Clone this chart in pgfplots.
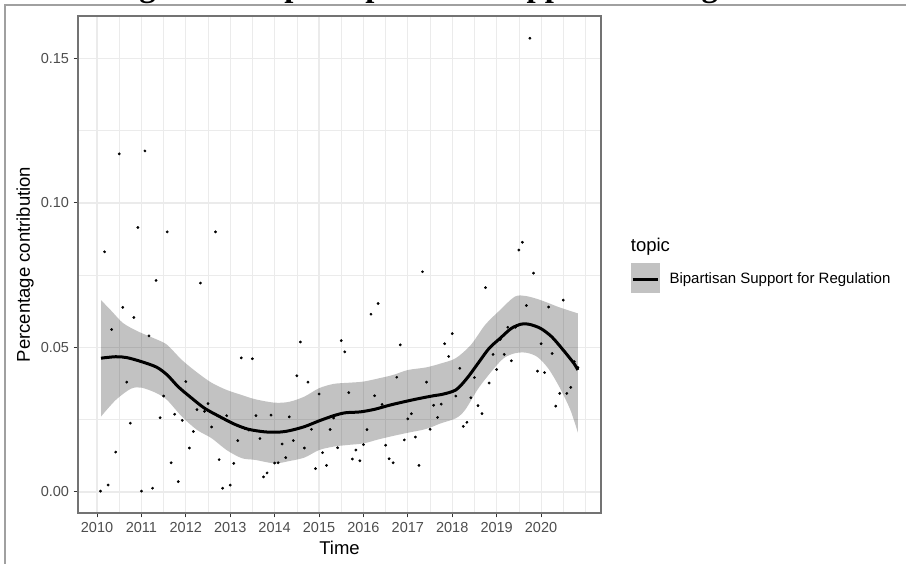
\documentclass[border=0pt]{standalone}
\usepackage{fontspec}
\setmainfont{Liberation Sans}
\newfontfamily\titlefont{Liberation Serif}
\usepackage{pgfplots}
\pgfplotsset{compat=1.18}
\usepgfplotslibrary{fillbetween}

\definecolor{gridgray}{HTML}{EBEBEB}
\definecolor{tickgray}{HTML}{4D4D4D}
\definecolor{framegray}{HTML}{A0A0A0}

% monthly topic share
\pgfplotstableread{
x y
2010.08 0.0003
2010.17 0.0831
2010.25 0.0024
2010.33 0.0562
2010.42 0.0138
2010.50 0.1170
2010.58 0.0639
2010.67 0.0380
2010.75 0.0238
2010.83 0.0604
2010.92 0.0915
2011.00 0.0003
2011.08 0.1180
2011.17 0.0540
2011.25 0.0013
2011.33 0.0732
2011.42 0.0257
2011.50 0.0332
2011.58 0.0900
2011.67 0.0101
2011.75 0.0269
2011.83 0.0036
2011.92 0.0248
2012.00 0.0382
2012.08 0.0152
2012.17 0.0209
2012.25 0.0285
2012.33 0.0723
2012.42 0.0279
2012.50 0.0306
2012.58 0.0225
2012.67 0.0900
2012.75 0.0112
2012.83 0.0013
2012.92 0.0264
2013.00 0.0024
2013.08 0.0099
2013.17 0.0178
2013.25 0.0464
2013.33 0.0220
2013.42 0.0214
2013.50 0.0461
2013.58 0.0264
2013.67 0.0185
2013.75 0.0052
2013.83 0.0066
2013.92 0.0266
2014.00 0.0100
2014.08 0.0101
2014.17 0.0166
2014.25 0.0119
2014.33 0.0260
2014.42 0.0178
2014.50 0.0402
2014.58 0.0519
2014.67 0.0152
2014.75 0.0380
2014.83 0.0217
2014.92 0.0081
2015.00 0.0339
2015.08 0.0136
2015.17 0.0092
2015.25 0.0216
2015.33 0.0256
2015.42 0.0153
2015.50 0.0524
2015.58 0.0485
2015.67 0.0344
2015.75 0.0114
2015.83 0.0145
2015.92 0.0108
2016.00 0.0164
2016.08 0.0216
2016.17 0.0615
2016.25 0.0333
2016.33 0.0652
2016.42 0.0303
2016.50 0.0162
2016.58 0.0115
2016.67 0.0101
2016.75 0.0397
2016.83 0.0509
2016.92 0.0180
2017.00 0.0253
2017.08 0.0271
2017.17 0.0190
2017.25 0.0092
2017.33 0.0762
2017.42 0.0380
2017.50 0.0217
2017.58 0.0300
2017.67 0.0258
2017.75 0.0304
2017.83 0.0513
2017.92 0.0469
2018.00 0.0548
2018.08 0.0332
2018.17 0.0428
2018.25 0.0227
2018.33 0.0241
2018.42 0.0326
2018.50 0.0396
2018.58 0.0299
2018.67 0.0271
2018.75 0.0707
2018.83 0.0377
2018.92 0.0476
2019.00 0.0424
2019.08 0.0528
2019.17 0.0476
2019.25 0.0570
2019.33 0.0454
2019.42 0.0570
2019.50 0.0837
2019.58 0.0864
2019.67 0.0645
2019.75 0.1570
2019.83 0.0757
2019.92 0.0418
2020.00 0.0513
2020.08 0.0413
2020.17 0.0640
2020.25 0.0479
2020.33 0.0297
2020.42 0.0341
2020.50 0.0664
2020.58 0.0341
2020.67 0.0362
2020.75 0.0451
2020.83 0.0431
}\points

\begin{document}
\begin{tikzpicture}[x=1pt,y=1pt]

% screenshot frame and the cut-off caption above it
\draw[framegray, line width=2pt] (906,559) -- (5,559) -- (5,0);
\node[anchor=base west, inner sep=0pt,
      font=\titlefont\bfseries\fontsize{32.8}{36}\selectfont]
  at (110,567) {Figure 5: Topic Bipartisan Support for Regulation};

\begin{axis}[
    at={(78pt,51pt)}, anchor=south west,
    scale only axis, width=523pt, height=497pt,
    xmin=2009.572, xmax=2021.35,
    ymin=-0.00727, ymax=0.1647,
    xtick={2010,2011,2012,2013,2014,2015,2016,2017,2018,2019,2020},
    xticklabels={2010,2011,2012,2013,2014,2015,2016,2017,2018,2019,2020},
    minor xtick={2010.5,2011.5,2012.5,2013.5,2014.5,2015.5,2016.5,2017.5,2018.5,2019.5,2020.5,2021},
    ytick={0,0.05,0.1,0.15},
    yticklabels={0.00,0.05,0.10,0.15},
    minor ytick={0.025,0.075,0.125},
    grid=both,
    major grid style={gridgray, line width=1.1pt},
    minor grid style={gridgray, line width=0.6pt},
    xtick pos=bottom, ytick pos=left,
    tick align=outside,
    major tick length=4.5pt, minor tick length=0pt,
    every tick/.style={black!80, line width=1pt},
    axis line style={black!55, line width=1.2pt},
    ticklabel style={font=\fontsize{14.5}{17}\selectfont, text=tickgray},
    xticklabel style={yshift=-1pt},
    yticklabel style={xshift=-1pt},
]

% confidence band of the loess fit
\addplot[name path=up, draw=none, smooth] coordinates {
(2010.09,0.0664)(2010.34,0.0624)(2010.59,0.0584)(2010.93,0.0555)(2011.34,0.0528)
(2011.58,0.0509)(2011.91,0.0457)(2012.25,0.0414)(2012.58,0.0378)(2012.92,0.0353)
(2013.25,0.0336)(2013.56,0.0321)(2014.00,0.0309)(2014.33,0.0312)(2014.67,0.0330)
(2015.00,0.0359)(2015.33,0.0374)(2015.67,0.0378)(2016.00,0.0382)(2016.34,0.0393)
(2016.67,0.0405)(2017.00,0.0422)(2017.41,0.0431)(2017.75,0.0445)(2018.08,0.0463)
(2018.42,0.0509)(2018.74,0.0578)(2019.08,0.0630)(2019.41,0.0676)(2019.66,0.0678)
(2019.99,0.0664)(2020.41,0.0639)(2020.83,0.0618)
};
\addplot[name path=lo, draw=none, smooth] coordinates {
(2010.09,0.0261)(2010.42,0.0318)(2010.76,0.0357)(2011.00,0.0361)(2011.34,0.0342)
(2011.58,0.0318)(2011.91,0.0261)(2012.25,0.0215)(2012.58,0.0186)(2012.92,0.0145)
(2013.26,0.0117)(2013.56,0.0111)(2014.00,0.0099)(2014.33,0.0107)(2014.67,0.0119)
(2015.00,0.0145)(2015.33,0.0157)(2015.67,0.0163)(2016.00,0.0168)(2016.34,0.0182)
(2016.67,0.0194)(2017.00,0.0205)(2017.41,0.0218)(2017.75,0.0238)(2018.08,0.0255)
(2018.29,0.0284)(2018.59,0.0359)(2018.91,0.0422)(2019.16,0.0463)(2019.41,0.0480)
(2019.66,0.0482)(2019.91,0.0468)(2020.16,0.0428)(2020.41,0.0364)(2020.66,0.0284)
(2020.83,0.0205)
};
\addplot[black, fill opacity=0.24, draw=none] fill between[of=up and lo];

\addplot[only marks, mark=*, mark size=1.2pt, black] table[x=x, y=y] {\points};

% loess fit
\addplot[black, line width=3pt, smooth] coordinates {
(2010.09,0.0463)(2010.42,0.0468)(2010.67,0.0465)(2011.00,0.0451)(2011.34,0.0432)
(2011.58,0.0405)(2011.83,0.0364)(2012.09,0.0330)(2012.42,0.0290)(2012.76,0.0261)
(2013.09,0.0235)(2013.41,0.0217)(2013.78,0.0208)(2014.08,0.0207)(2014.33,0.0212)
(2014.67,0.0226)(2015.00,0.0246)(2015.33,0.0264)(2015.59,0.0274)(2015.92,0.0277)
(2016.25,0.0286)(2016.58,0.0300)(2016.91,0.0312)(2017.24,0.0323)(2017.58,0.0333)
(2017.75,0.0337)(2018.08,0.0353)(2018.33,0.0393)(2018.58,0.0445)(2018.83,0.0497)
(2019.08,0.0532)(2019.33,0.0566)(2019.56,0.0581)(2019.74,0.0580)(2019.99,0.0566)
(2020.24,0.0537)(2020.50,0.0491)(2020.74,0.0445)(2020.83,0.0422)
};
\end{axis}

% axis titles
\node[anchor=base, font=\fontsize{18.5}{22}\selectfont] at (339.5,9) {Time};
\node[anchor=base, rotate=90, font=\fontsize{18.5}{22}\selectfont] at (30,299.5) {Percentage contribution};

% legend
\node[anchor=base west, inner sep=0pt, font=\fontsize{18.5}{22}\selectfont] at (630.7,312.3) {topic};
\fill[black!24] (630.7,271.3) rectangle (660,300.7);
\draw[black, line width=3pt] (632.7,284.7) -- (657.7,284.7);
\node[anchor=base west, inner sep=0pt, font=\fontsize{15}{18}\selectfont] at (669.3,280.7) {Bipartisan Support for Regulation};

\pgfresetboundingbox
\path[use as bounding box] (0,0) rectangle (906,564);
\end{tikzpicture}
\end{document}
